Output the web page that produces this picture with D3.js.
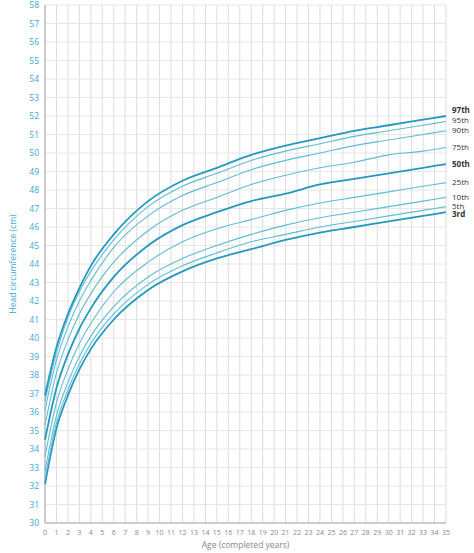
<!DOCTYPE html>
<html>
<head>
<meta charset="utf-8">
<script src="https://cdn.jsdelivr.net/npm/d3@7"></script>
<style>
  body { margin: 0; background: #fff; font-family: "Open Sans", sans-serif; }
</style>
</head>
<body>
<div id="container"></div>
<script>
// age points (x axis) and percentile curves
let ages = [0, 1, 2, 3, 4, 6, 9, 12, 15, 18, 21, 24, 27, 30, 33, 35];
let p3  = [32.1, 35.1, 36.9, 38.3, 39.4, 41.0, 42.6, 43.6, 44.3, 44.8, 45.3, 45.7, 46.0, 46.3, 46.6, 46.8];
let p5  = [32.4, 35.4, 37.2, 38.6, 39.7, 41.3, 42.9, 43.9, 44.6, 45.2, 45.6, 46.0, 46.3, 46.6, 46.9, 47.1];
let p10 = [32.8, 35.8, 37.6, 39.0, 40.1, 41.7, 43.3, 44.3, 45.0, 45.6, 46.1, 46.5, 46.8, 47.1, 47.4, 47.6];
let p25 = [33.6, 36.5, 38.3, 39.7, 40.8, 42.5, 44.1, 45.2, 45.9, 46.4, 46.9, 47.3, 47.6, 47.9, 48.2, 48.4];
let p50 = [34.5, 37.3, 39.1, 40.5, 41.6, 43.3, 45.0, 46.1, 46.8, 47.4, 47.8, 48.3, 48.6, 48.9, 49.2, 49.4];
let p75 = [35.3, 38.1, 39.9, 41.3, 42.4, 44.1, 45.8, 46.9, 47.6, 48.3, 48.8, 49.2, 49.5, 49.9, 50.1, 50.3];
let p90 = [36.1, 38.8, 40.6, 42.0, 43.1, 44.9, 46.6, 47.7, 48.4, 49.1, 49.6, 50.0, 50.4, 50.7, 51.0, 51.2];
let p95 = [36.6, 39.2, 41.1, 42.5, 43.6, 45.3, 47.1, 48.2, 48.9, 49.6, 50.1, 50.5, 50.9, 51.2, 51.5, 51.7];
let p97 = [36.9, 39.5, 41.3, 42.7, 43.9, 45.6, 47.4, 48.5, 49.2, 49.9, 50.4, 50.8, 51.2, 51.5, 51.8, 52.0];
let labels = ["3rd", "5th", "10th", "25th", "50th", "75th", "90th", "95th", "97th"];
let major = ["3rd", "50th", "97th"];

let w = 474, h = 553;
let padLeft = 45, padRight = 446, padTop = 5, padBottom = 523;

let viz = d3.select("#container").append("svg").attr("width", w).attr("height", h);

let xScale = d3.scaleLinear().domain([0, 35]).range([padLeft, padRight]);
let yScale = d3.scaleLinear().domain([30, 58]).range([padBottom, padTop]);

// grid
viz.append("g").selectAll("line").data(d3.range(1, 36)).enter().append("line")
  .attr("x1", d => xScale(d)).attr("x2", d => xScale(d))
  .attr("y1", padTop).attr("y2", padBottom)
  .attr("stroke", "#dcdcdc").attr("stroke-width", 1);
viz.append("g").selectAll("line").data(d3.range(31, 59)).enter().append("line")
  .attr("x1", padLeft).attr("x2", padRight)
  .attr("y1", d => yScale(d)).attr("y2", d => yScale(d))
  .attr("stroke", "#e6e6e6").attr("stroke-width", 1);

// axes lines
viz.append("line").attr("x1", padLeft).attr("x2", padLeft).attr("y1", padTop).attr("y2", padBottom)
  .attr("stroke", "#bbb").attr("stroke-width", 1.5);
viz.append("line").attr("x1", padLeft).attr("x2", padRight).attr("y1", padBottom).attr("y2", padBottom)
  .attr("stroke", "#bbb").attr("stroke-width", 1.5);

// tick labels
viz.append("g").selectAll("text").data(d3.range(30, 59)).enter().append("text")
  .attr("x", padLeft - 6).attr("y", d => yScale(d) + 3)
  .attr("text-anchor", "end").attr("font-size", 8.5).attr("fill", "#3aa8d4")
  .text(d => d);
viz.append("g").selectAll("text").data(d3.range(0, 36)).enter().append("text")
  .attr("x", d => xScale(d)).attr("y", padBottom + 12)
  .attr("text-anchor", "middle").attr("font-size", 7).attr("fill", "#888")
  .text(d => d);

// axis titles
viz.append("text").attr("transform", "translate(16," + ((padTop + padBottom) / 2) + ") rotate(-90)")
  .attr("text-anchor", "middle").attr("font-size", 8.5).attr("fill", "#3aa8d4")
  .text("Head circumference (cm)");
viz.append("text").attr("x", (padLeft + padRight) / 2).attr("y", padBottom + 25)
  .attr("text-anchor", "middle").attr("font-size", 8.5).attr("fill", "#888")
  .text("Age (completed years)");

// curves
let series = [p3, p5, p10, p25, p50, p75, p90, p95, p97];
let lineMaker = d3.line()
  .x((d, i) => xScale(ages[i]))
  .y(d => yScale(d))
  .curve(d3.curveMonotoneX);

viz.append("g").selectAll("path").data(series).enter().append("path")
  .attr("d", lineMaker)
  .attr("fill", "none")
  .attr("stroke", (d, i) => major.includes(labels[i]) ? "#2598c0" : "#5fbcd6")
  .attr("stroke-width", (d, i) => major.includes(labels[i]) ? 1.8 : 1.1);

// end labels
let labelY = {"97th": 52.35, "95th": 51.8, "90th": 51.25, "75th": 50.35, "50th": 49.4,
  "25th": 48.45, "10th": 47.6, "5th": 47.15, "3rd": 46.7};
viz.append("g").selectAll("text").data(labels).enter().append("text")
  .attr("x", padRight + 6).attr("y", d => yScale(labelY[d]) + 3)
  .attr("font-size", 8).attr("fill", "#333")
  .attr("font-weight", d => major.includes(d) ? "bold" : "normal")
  .text(d => d);
</script>
</body>
</html>
